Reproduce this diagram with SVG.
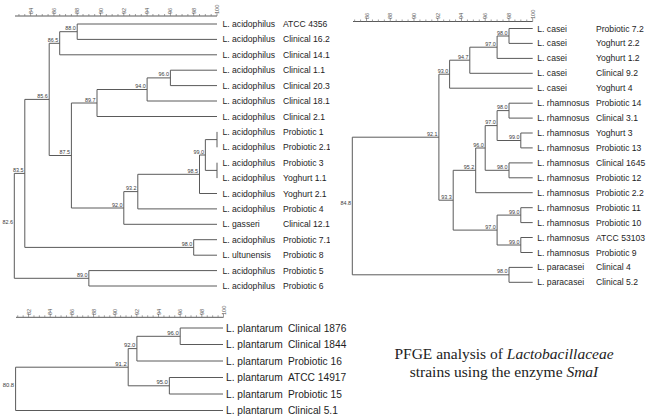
<svg xmlns="http://www.w3.org/2000/svg" width="648" height="419" viewBox="0 0 648 419">
<style>
.ln{fill:none;stroke:#5a5a5a;stroke-width:1}
.tk{fill:none;stroke:#777;stroke-width:0.7}
.lf{font-family:"Liberation Sans",Arial,sans-serif;font-size:8.6px;fill:#1e1e1e}
.lfb{font-family:"Liberation Sans",Arial,sans-serif;font-size:10.2px;fill:#1e1e1e}
.nl{font-family:"Liberation Sans",Arial,sans-serif;font-size:5.4px;fill:#3a3a3a;text-anchor:end}
.nlb{font-family:"Liberation Sans",Arial,sans-serif;font-size:5.9px;fill:#3a3a3a;text-anchor:end}
.ax{font-family:"Liberation Sans",Arial,sans-serif;font-size:5.6px;fill:#555}
.cap{font-family:"Liberation Serif","Times New Roman",serif;font-size:15.5px;fill:#222;text-anchor:middle}
</style>
<defs>
<clipPath id="clipL"><rect x="0" y="0" width="330" height="300"/></clipPath>
</defs>
<rect width="648" height="419" fill="#fff"/>

<!-- Scales -->
<g id="scale-left">
<path class="ln" d="M15 16H217"/>
<path class="tk" d="M18.95 16v-2M24.78 16v-2M30.6 16v-3.5M36.43 16v-2M42.25 16v-2M48.08 16v-2M53.9 16v-3.5M59.73 16v-2M65.55 16v-2M71.38 16v-2M77.2 16v-3.5M83.03 16v-2M88.85 16v-2M94.68 16v-2M100.5 16v-3.5M106.33 16v-2M112.15 16v-2M117.98 16v-2M123.8 16v-3.5M129.63 16v-2M135.45 16v-2M141.28 16v-2M147.1 16v-3.5M152.93 16v-2M158.75 16v-2M164.58 16v-2M170.4 16v-3.5M176.23 16v-2M182.05 16v-2M187.88 16v-2M193.7 16v-3.5M199.53 16v-2M205.35 16v-2M211.18 16v-2M217 16v-3.5"/>
<g class="ax">
<text transform="translate(30.6,14) rotate(-90)" y="2">84</text>
<text transform="translate(53.9,14) rotate(-90)" y="2">86</text>
<text transform="translate(77.2,14) rotate(-90)" y="2">88</text>
<text transform="translate(100.5,14) rotate(-90)" y="2">90</text>
<text transform="translate(123.8,14) rotate(-90)" y="2">92</text>
<text transform="translate(147.1,14) rotate(-90)" y="2">94</text>
<text transform="translate(170.4,14) rotate(-90)" y="2">96</text>
<text transform="translate(193.7,14) rotate(-90)" y="2">98</text>
<text transform="translate(217,14) rotate(-90)" y="2">100</text>
</g>
</g>

<g id="scale-right">
<path class="ln" d="M353 21.5H532.7"/>
<path class="tk" d="M354.65 21.5v-2M360.59 21.5v-2M366.52 21.5v-3.5M372.46 21.5v-2M378.39 21.5v-2M384.33 21.5v-2M390.26 21.5v-3.5M396.2 21.5v-2M402.13 21.5v-2M408.07 21.5v-2M414 21.5v-3.5M419.94 21.5v-2M425.87 21.5v-2M431.81 21.5v-2M437.74 21.5v-3.5M443.68 21.5v-2M449.61 21.5v-2M455.55 21.5v-2M461.48 21.5v-3.5M467.42 21.5v-2M473.35 21.5v-2M479.29 21.5v-2M485.22 21.5v-3.5M491.16 21.5v-2M497.09 21.5v-2M503.03 21.5v-2M508.96 21.5v-3.5M514.9 21.5v-2M520.83 21.5v-2M526.77 21.5v-2M532.7 21.5v-3.5"/>
<g class="ax">
<text transform="translate(366.52,19) rotate(-90)" y="2">86</text>
<text transform="translate(390.26,19) rotate(-90)" y="2">88</text>
<text transform="translate(414,19) rotate(-90)" y="2">90</text>
<text transform="translate(437.74,19) rotate(-90)" y="2">92</text>
<text transform="translate(461.48,19) rotate(-90)" y="2">94</text>
<text transform="translate(485.22,19) rotate(-90)" y="2">96</text>
<text transform="translate(508.96,19) rotate(-90)" y="2">98</text>
<text transform="translate(532.7,19) rotate(-90)" y="2">100</text>
</g>
</g>

<g id="scale-bottom">
<path class="ln" d="M16 317.3H223.5"/>
<path class="tk" d="M17.73 317.3v-2M23.15 317.3v-2M28.56 317.3v-3.5M33.98 317.3v-2M39.39 317.3v-2M44.81 317.3v-2M50.22 317.3v-3.5M55.64 317.3v-2M61.05 317.3v-2M66.47 317.3v-2M71.88 317.3v-3.5M77.3 317.3v-2M82.71 317.3v-2M88.13 317.3v-2M93.54 317.3v-3.5M98.96 317.3v-2M104.37 317.3v-2M109.79 317.3v-2M115.2 317.3v-3.5M120.62 317.3v-2M126.03 317.3v-2M131.45 317.3v-2M136.86 317.3v-3.5M142.28 317.3v-2M147.69 317.3v-2M153.11 317.3v-2M158.52 317.3v-3.5M163.94 317.3v-2M169.35 317.3v-2M174.77 317.3v-2M180.18 317.3v-3.5M185.6 317.3v-2M191.01 317.3v-2M196.43 317.3v-2M201.84 317.3v-3.5M207.26 317.3v-2M212.67 317.3v-2M218.09 317.3v-2M223.5 317.3v-3.5"/>
<g class="ax">
<text transform="translate(28.56,315) rotate(-90)" y="2">82</text>
<text transform="translate(50.22,315) rotate(-90)" y="2">84</text>
<text transform="translate(71.88,315) rotate(-90)" y="2">86</text>
<text transform="translate(93.54,315) rotate(-90)" y="2">88</text>
<text transform="translate(115.2,315) rotate(-90)" y="2">90</text>
<text transform="translate(136.86,315) rotate(-90)" y="2">92</text>
<text transform="translate(158.52,315) rotate(-90)" y="2">94</text>
<text transform="translate(180.18,315) rotate(-90)" y="2">96</text>
<text transform="translate(201.84,315) rotate(-90)" y="2">98</text>
<text transform="translate(223.5,315) rotate(-90)" y="2">100</text>
</g>
</g>

<!-- Connectors -->
<g id="connectors" class="ln">
<!-- left tree -->
<path d="M217 24H77.2V39.4H217"/>
<path d="M77.2 31.7H59.7V54.8H217"/>
<path d="M217 70.2H170.4V85.6H217"/>
<path d="M170.4 77.9H147.1V101H217"/>
<path d="M147.1 89.5H97V116.5H217"/>
<path d="M217 131.9V147.3"/>
<path d="M217 162.7V178.1"/>
<path d="M217 139.6H205.35V170.4H217"/>
<path d="M205.35 155H199.5V193.5H217"/>
<path d="M199.5 174.3H137.8V208.9H217"/>
<path d="M137.8 191.6H123.8V224.3H217"/>
<path d="M97 103H71.4V208H123.8"/>
<path d="M59.7 43.3H49.2V155.5H71.4"/>
<path d="M217 239.7H193.7V255.2H217"/>
<path d="M49.2 99.4H24.8V247.4H193.7"/>
<path d="M217 270.6H88.85V286H217"/>
<path d="M24.8 173.4H14.3V278.3H88.85"/>
<!-- right tree -->
<path d="M532.7 28.5H509V43.4H532.7"/>
<path d="M509 36H497.1V58.4H532.7"/>
<path d="M497.1 47.2H469.8V73.3H532.7"/>
<path d="M469.8 60.2H449.6V88.2H532.7"/>
<path d="M532.7 103.2H509V118.1H532.7"/>
<path d="M532.7 133H520.8V147.9H532.7"/>
<path d="M509 110.6H497.1V140.5H520.8"/>
<path d="M532.7 162.9H509V177.8H532.7"/>
<path d="M497.1 125.6H485.2V170.3H509"/>
<path d="M485.2 148H475.7V192.7H532.7"/>
<path d="M532.7 207.7H520.8V222.6H532.7"/>
<path d="M532.7 237.5H520.8V252.5H532.7"/>
<path d="M520.8 215.1H497.1V245H520.8"/>
<path d="M475.7 170.3H453.2V230.1H497.1"/>
<path d="M449.6 74.2H438.9V200.2H453.2"/>
<path d="M532.7 267.4H509V282.3H532.7"/>
<path d="M438.9 137.2H352.3V274.8H509"/>
<!-- bottom tree -->
<path d="M223 328H180.2V344.5H223"/>
<path d="M180.2 336.3H136.9V361H223"/>
<path d="M223 377.5H169.35V394H223"/>
<path d="M136.9 348.6H128.2V385.8H169.35"/>
<path d="M128.2 367.2H15.6V410.5H223"/>
</g>

<!-- Left tree internal node labels -->
<g id="left-nodes" class="nl">
<g id="nL-88-0"><text x="75.8" y="30.2">88.0</text></g>
<g id="nL-86-5"><text x="58.3" y="41.8">86.5</text></g>
<g id="nL-96-0"><text x="169" y="76.4">96.0</text></g>
<g id="nL-94-0"><text x="145.7" y="88">94.0</text></g>
<g id="nL-89-7"><text x="95.6" y="101.5">89.7</text></g>
<g id="nL-99-0"><text x="203.9" y="153.5">99.0</text></g>
<g id="nL-98-5"><text x="198.1" y="172.8">98.5</text></g>
<g id="nL-93-2"><text x="136.4" y="190.1">93.2</text></g>
<g id="nL-92-0"><text x="122.4" y="206.5">92.0</text></g>
<g id="nL-87-5"><text x="70" y="154">87.5</text></g>
<g id="nL-85-6"><text x="47.8" y="97.9">85.6</text></g>
<g id="nL-98-0"><text x="192.3" y="246">98.0</text></g>
<g id="nL-83-5"><text x="23.4" y="172">83.5</text></g>
<g id="nL-89-0"><text x="87.4" y="276.8">89.0</text></g>
<g id="nL-82-6"><text x="12.9" y="224.4">82.6</text></g>
</g>

<!-- Left tree leaves -->
<g clip-path="url(#clipL)" class="lf">
<g id="leafL-0"><text x="222.5" y="27">L. acidophilus</text><text x="283" y="27">ATCC 4356</text></g>
<g id="leafL-1"><text x="222.5" y="42.4">L. acidophilus</text><text x="283" y="42.4">Clinical 16.2</text></g>
<g id="leafL-2"><text x="222.5" y="57.8">L. acidophilus</text><text x="283" y="57.8">Clinical 14.1</text></g>
<g id="leafL-3"><text x="222.5" y="73.2">L. acidophilus</text><text x="283" y="73.2">Clinical 1.1</text></g>
<g id="leafL-4"><text x="222.5" y="88.6">L. acidophilus</text><text x="283" y="88.6">Clinical 20.3</text></g>
<g id="leafL-5"><text x="222.5" y="104">L. acidophilus</text><text x="283" y="104">Clinical 18.1</text></g>
<g id="leafL-6"><text x="222.5" y="119.5">L. acidophilus</text><text x="283" y="119.5">Clinical 2.1</text></g>
<g id="leafL-7"><text x="222.5" y="134.9">L. acidophilus</text><text x="283" y="134.9">Probiotic 1</text></g>
<g id="leafL-8"><text x="222.5" y="150.3">L. acidophilus</text><text x="283" y="150.3">Probiotic 2.1</text></g>
<g id="leafL-9"><text x="222.5" y="165.7">L. acidophilus</text><text x="283" y="165.7">Probiotic 3</text></g>
<g id="leafL-10"><text x="222.5" y="181.1">L. acidophilus</text><text x="283" y="181.1">Yoghurt 1.1</text></g>
<g id="leafL-11"><text x="222.5" y="196.5">L. acidophilus</text><text x="283" y="196.5">Yoghurt 2.1</text></g>
<g id="leafL-12"><text x="222.5" y="211.9">L. acidophilus</text><text x="283" y="211.9">Probiotic 4</text></g>
<g id="leafL-13"><text x="222.5" y="227.3">L. gasseri</text><text x="283" y="227.3">Clinical 12.1</text></g>
<g id="leafL-14"><text x="222.5" y="242.7">L. acidophilus</text><text x="283" y="242.7">Probiotic 7.1</text></g>
<g id="leafL-15"><text x="222.5" y="258.2">L. ultunensis</text><text x="283" y="258.2">Probiotic 8</text></g>
<g id="leafL-16"><text x="222.5" y="273.6">L. acidophilus</text><text x="283" y="273.6">Probiotic 5</text></g>
<g id="leafL-17"><text x="222.5" y="289">L. acidophilus</text><text x="283" y="289">Probiotic 6</text></g>
</g>

<!-- Right tree internal node labels -->
<g id="right-nodes" class="nl">
<g id="nR-98-0a"><text x="507.6" y="34.5">98.0</text></g>
<g id="nR-97-0a"><text x="495.7" y="45.7">97.0</text></g>
<g id="nR-94-7"><text x="468.4" y="58.7">94.7</text></g>
<g id="nR-93-0"><text x="448.2" y="72.7">93.0</text></g>
<g id="nR-98-0b"><text x="507.6" y="109.1">98.0</text></g>
<g id="nR-99-0a"><text x="519.4" y="139">99.0</text></g>
<g id="nR-97-0b"><text x="495.7" y="124.1">97.0</text></g>
<g id="nR-98-0c"><text x="507.6" y="168.8">98.0</text></g>
<g id="nR-96-0"><text x="483.8" y="146.5">96.0</text></g>
<g id="nR-95-2"><text x="474.3" y="168.8">95.2</text></g>
<g id="nR-99-0b"><text x="519.4" y="213.6">99.0</text></g>
<g id="nR-99-0c"><text x="519.4" y="243.5">99.0</text></g>
<g id="nR-97-0c"><text x="495.7" y="228.6">97.0</text></g>
<g id="nR-93-3"><text x="451.8" y="198.7">93.3</text></g>
<g id="nR-92-1"><text x="437.5" y="135.7">92.1</text></g>
<g id="nR-98-0d"><text x="507.6" y="273.3">98.0</text></g>
<g id="nR-84-8"><text x="350.9" y="204.5">84.8</text></g>
</g>

<!-- Right tree leaves -->
<g class="lf">
<g id="leafR-0"><text x="537.3" y="31.5">L. casei</text><text x="596" y="31.5">Probiotic 7.2</text></g>
<g id="leafR-1"><text x="537.3" y="46.4">L. casei</text><text x="596" y="46.4">Yoghurt 2.2</text></g>
<g id="leafR-2"><text x="537.3" y="61.4">L. casei</text><text x="596" y="61.4">Yoghurt 1.2</text></g>
<g id="leafR-3"><text x="537.3" y="76.3">L. casei</text><text x="596" y="76.3">Clinical 9.2</text></g>
<g id="leafR-4"><text x="537.3" y="91.2">L. casei</text><text x="596" y="91.2">Yoghurt 4</text></g>
<g id="leafR-5"><text x="537.3" y="106.2">L. rhamnosus</text><text x="596" y="106.2">Probiotic 14</text></g>
<g id="leafR-6"><text x="537.3" y="121.1">L. rhamnosus</text><text x="596" y="121.1">Clinical 3.1</text></g>
<g id="leafR-7"><text x="537.3" y="136">L. rhamnosus</text><text x="596" y="136">Yoghurt 3</text></g>
<g id="leafR-8"><text x="537.3" y="150.9">L. rhamnosus</text><text x="596" y="150.9">Probiotic 13</text></g>
<g id="leafR-9"><text x="537.3" y="165.9">L. rhamnosus</text><text x="596" y="165.9">Clinical 1645</text></g>
<g id="leafR-10"><text x="537.3" y="180.8">L. rhamnosus</text><text x="596" y="180.8">Probiotic 12</text></g>
<g id="leafR-11"><text x="537.3" y="195.7">L. rhamnosus</text><text x="596" y="195.7">Probiotic 2.2</text></g>
<g id="leafR-12"><text x="537.3" y="210.7">L. rhamnosus</text><text x="596" y="210.7">Probiotic 11</text></g>
<g id="leafR-13"><text x="537.3" y="225.6">L. rhamnosus</text><text x="596" y="225.6">Probiotic 10</text></g>
<g id="leafR-14"><text x="537.3" y="240.5">L. rhamnosus</text><text x="596" y="240.5">ATCC 53103</text></g>
<g id="leafR-15"><text x="537.3" y="255.5">L. rhamnosus</text><text x="596" y="255.5">Probiotic 9</text></g>
<g id="leafR-16"><text x="537.3" y="270.4">L. paracasei</text><text x="596" y="270.4">Clinical 4</text></g>
<g id="leafR-17"><text x="537.3" y="285.3">L. paracasei</text><text x="596" y="285.3">Clinical 5.2</text></g>
</g>

<!-- Bottom tree internal node labels -->
<g id="bottom-nodes" class="nlb">
<g id="nB-96-0"><text x="178.7" y="334.7">96.0</text></g>
<g id="nB-92-0"><text x="135.4" y="347.1">92.0</text></g>
<g id="nB-95-0"><text x="167.9" y="384.2">95.0</text></g>
<g id="nB-91-2"><text x="126.7" y="365.7">91.2</text></g>
<g id="nB-80-8"><text x="14.1" y="387.3">80.8</text></g>
</g>

<!-- Bottom tree leaves -->
<g class="lfb">
<g id="leafB-0"><text x="226" y="331.6">L. plantarum</text><text x="288" y="331.6">Clinical 1876</text></g>
<g id="leafB-1"><text x="226" y="348.1">L. plantarum</text><text x="288" y="348.1">Clinical 1844</text></g>
<g id="leafB-2"><text x="226" y="364.6">L. plantarum</text><text x="288" y="364.6">Probiotic 16</text></g>
<g id="leafB-3"><text x="226" y="381.1">L. plantarum</text><text x="288" y="381.1">ATCC 14917</text></g>
<g id="leafB-4"><text x="226" y="397.6">L. plantarum</text><text x="288" y="397.6">Probiotic 15</text></g>
<g id="leafB-5"><text x="226" y="414.1">L. plantarum</text><text x="288" y="414.1">Clinical 5.1</text></g>
</g>

<!-- Caption -->
<g id="caption" class="cap">
<text x="504" y="358.5">PFGE analysis of <tspan font-style="italic">Lactobacillaceae</tspan></text>
<text x="504" y="376.5">strains using the enzyme <tspan font-style="italic">SmaI</tspan></text>
</g>
</svg>
